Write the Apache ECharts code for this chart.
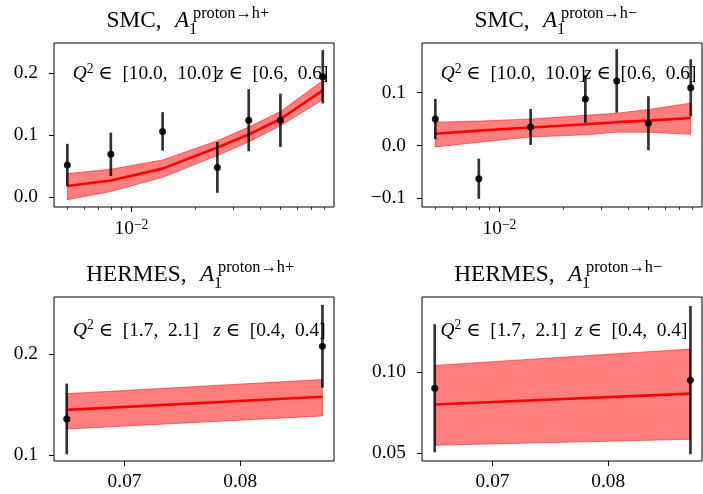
<!DOCTYPE html>
<html><head><meta charset="utf-8">
<script src="https://cdn.jsdelivr.net/npm/echarts@6/dist/echarts.min.js"></script>
<style>html,body{margin:0;padding:0;background:#fff}#c{width:703px;height:494px}</style>
</head><body><div id="c"></div>
<script>
// ---------- data ----------
const smcX = [0.005, 0.008, 0.014, 0.0253, 0.0355, 0.050, 0.079];

const smcPlusY      = [0.052, 0.069, 0.106, 0.048, 0.124, 0.124, 0.194];
const smcPlusErr    = [0.034, 0.035, 0.031, 0.041, 0.050, 0.043, 0.043];
const smcPlusTheory = [0.018, 0.027, 0.046, 0.080, 0.101, 0.126, 0.172];
const smcPlusLower  = [-0.004, 0.009, 0.032, 0.067, 0.089, 0.115, 0.157];
const smcPlusUpper  = [0.038, 0.045, 0.060, 0.091, 0.113, 0.138, 0.188];

const smcMinusY      = [0.050, -0.063, 0.035, 0.088, 0.122, 0.042, 0.109];
const smcMinusErr    = [0.038, 0.038, 0.034, 0.045, 0.060, 0.051, 0.054];
const smcMinusTheory = [0.022, 0.028, 0.034, 0.040, 0.044, 0.047, 0.052];
const smcMinusLower  = [-0.003, 0.006, 0.016, 0.020, 0.025, 0.025, 0.021];
const smcMinusUpper  = [0.044, 0.046, 0.050, 0.057, 0.061, 0.068, 0.080];

const hermesX = [0.0650, 0.0871];

const hermesPlusY      = [0.136, 0.208];
const hermesPlusErr    = [0.035, 0.041];
const hermesPlusTheory = [0.145, 0.158];
const hermesPlusLower  = [0.126, 0.139];
const hermesPlusUpper  = [0.161, 0.175];

const hermesMinusY      = [0.090, 0.095];
const hermesMinusErr    = [0.0395, 0.0457];
const hermesMinusTheory = [0.080, 0.0867];
const hermesMinusLower  = [0.0548, 0.0585];
const hermesMinusUpper  = [0.1041, 0.1142];

// axis ranges and tick values / labels
const smcXRange = [0.00433, 0.0892];
const smcXMajorTicks = [0.01];
const smcXMajorLabels = ['{b|10}{s|\u22122}'];
const smcXMinorTicks = [0.005, 0.006, 0.007, 0.008, 0.009, 0.02, 0.03, 0.04, 0.05, 0.06, 0.07, 0.08];
const hermesXRange = [0.0639, 0.0881];
const hermesXTicks  = [0.07, 0.08];
const hermesXLabels = ['0.07', '0.08'];
const smcPlusYTicks  = [0, 0.1, 0.2];
const smcPlusYLabels = ['0.0', '0.1', '0.2'];
const smcMinusYTicks  = [-0.1, 0, 0.1];
const smcMinusYLabels = ['\u22120.1', '0.0', '0.1'];
const hermesPlusYTicks  = [0.1, 0.2];
const hermesPlusYLabels = ['0.1', '0.2'];
const hermesMinusYTicks  = [0.05, 0.10];
const hermesMinusYLabels = ['0.05', '0.10'];

// ---------- layout / style ----------
const FF = "'Liberation Serif','DejaVu Serif',serif";
const TICK_FS = 19.4;
const grids = [
  {left: 54, top: 43, width: 280, height: 164},
  {left: 422, top: 43, width: 280, height: 164},
  {left: 54, top: 297, width: 280, height: 164},
  {left: 422, top: 297, width: 280, height: 164}
];

function lookupLabel(ticks, labels) {
  return function (v) {
    for (let i = 0; i < ticks.length; i++) if (Math.abs(ticks[i] - v) < 1e-9) return labels[i];
    return '';
  };
}
const noLine = {show: false, onZero: false};

function yAxis(gi, min, max, ticks, labels) {
  return {
    type: 'value', gridIndex: gi, min: min, max: max,
    axisLine: noLine, splitLine: {show: false},
    axisTick: {show: true, customValues: ticks, length: 5, lineStyle: {color: '#000', width: 1}},
    axisLabel: {customValues: ticks, formatter: lookupLabel(ticks, labels), margin: 16,
      color: '#000', fontFamily: FF, fontSize: TICK_FS, padding: [3, 0, 0, 0]}
  };
}
// log data axis (no ticks drawn itself)
function logXData(gi) {
  return {
    type: 'log', gridIndex: gi, min: smcXRange[0], max: smcXRange[1], position: 'bottom',
    axisLine: noLine, splitLine: {show: false}, axisTick: {show: false}, axisLabel: {show: false}
  };
}
// tick axes on the same log scale (log10 of tick values)
function logXTicks(gi, ticks, len, labels) {
  const lt = ticks.map(function (t) { return Math.log10(t); });
  const ax = {
    type: 'value', gridIndex: gi, position: 'bottom', offset: 0,
    min: Math.log10(smcXRange[0]), max: Math.log10(smcXRange[1]),
    axisLine: noLine, splitLine: {show: false},
    axisTick: {show: true, customValues: lt, length: len, lineStyle: {color: '#000', width: len > 4 ? 1 : 0.8}},
    axisLabel: {show: false}
  };
  if (labels) {
    ax.axisLabel = {show: true, customValues: lt, margin: 11,
      formatter: lookupLabel(lt, labels),
      rich: {
        b: {fontFamily: FF, fontSize: TICK_FS, color: '#000', lineHeight: 22},
        s: {fontFamily: FF, fontSize: 13.6, color: '#000', lineHeight: 12, verticalAlign: 'top'}
      }};
  }
  return ax;
}
function linX(gi) {
  return {
    type: 'value', gridIndex: gi, min: hermesXRange[0], max: hermesXRange[1],
    axisLine: noLine, splitLine: {show: false},
    axisTick: {show: true, customValues: hermesXTicks, length: 5, lineStyle: {color: '#000', width: 1}},
    axisLabel: {customValues: hermesXTicks, formatter: lookupLabel(hermesXTicks, hermesXLabels), margin: 11,
      color: '#000', fontFamily: FF, fontSize: TICK_FS}
  };
}

const panels = [
  {x: smcX, y: smcPlusY, err: smcPlusErr, th: smcPlusTheory, lo: smcPlusLower, hi: smcPlusUpper, xi: 0},
  {x: smcX, y: smcMinusY, err: smcMinusErr, th: smcMinusTheory, lo: smcMinusLower, hi: smcMinusUpper, xi: 3},
  {x: hermesX, y: hermesPlusY, err: hermesPlusErr, th: hermesPlusTheory, lo: hermesPlusLower, hi: hermesPlusUpper, xi: 6},
  {x: hermesX, y: hermesMinusY, err: hermesMinusErr, th: hermesMinusTheory, lo: hermesMinusLower, hi: hermesMinusUpper, xi: 7}
];

const series = [];
panels.forEach(function (p, i) {
  series.push({
    type: 'custom', xAxisIndex: p.xi, yAxisIndex: i, z: 1, silent: true,
    data: p.x.map(function (xv, k) { return [xv, p.lo[k], p.hi[k]]; }),
    encode: {x: 0, y: [1, 2]},
    renderItem: function (params, api) {
      if (params.dataIndex !== 0) return null;
      const pts = [];
      for (let k = 0; k < p.x.length; k++) pts.push(api.coord([p.x[k], p.hi[k]]));
      for (let k = p.x.length - 1; k >= 0; k--) pts.push(api.coord([p.x[k], p.lo[k]]));
      return {type: 'polygon', shape: {points: pts},
        style: {fill: 'rgba(255,0,0,0.5)', stroke: 'rgba(255,0,0,0.5)', lineWidth: 1}};
    }
  });
  series.push({
    type: 'line', xAxisIndex: p.xi, yAxisIndex: i, z: 2, symbol: 'none', silent: true,
    data: p.x.map(function (xv, k) { return [xv, p.th[k]]; }),
    lineStyle: {color: '#ff0000', width: 2.6}
  });
  series.push({
    type: 'custom', xAxisIndex: p.xi, yAxisIndex: i, z: 3, silent: true,
    data: p.x.map(function (xv, k) { return [xv, p.y[k], p.err[k]]; }),
    encode: {x: 0, y: 1},
    renderItem: function (params, api) {
      const xv = api.value(0), yv = api.value(1), e = api.value(2);
      const a = api.coord([xv, yv - e]), b = api.coord([xv, yv + e]);
      return {type: 'line', shape: {x1: a[0], y1: a[1], x2: b[0], y2: b[1]},
        style: {stroke: 'rgba(0,0,0,0.8)', lineWidth: 2.7}};
    }
  });
  series.push({
    type: 'scatter', xAxisIndex: p.xi, yAxisIndex: i, z: 4, symbolSize: 7, silent: true,
    data: p.x.map(function (xv, k) { return [xv, p.y[k]]; }),
    itemStyle: {color: '#000', opacity: 0.9}
  });
});

// ---------- text (titles, annotations) ----------
const graphic = [];
function title(prefix, sup, aLeft, base) {
  graphic.push({type: 'text', silent: true, style: {text: prefix, x: aLeft - 13.5, y: base - 7.9, textAlign: 'right',
    textVerticalAlign: 'middle', fontFamily: FF, fontSize: 23.3, fill: '#000'}});
  graphic.push({type: 'text', silent: true, style: {text: 'A', x: aLeft, y: base - 7.9, textAlign: 'left',
    textVerticalAlign: 'middle', fontFamily: FF, fontSize: 23.3, fontStyle: 'italic', fill: '#000'}});
  graphic.push({type: 'text', silent: true, style: {text: '1', x: aLeft + 14, y: base + 6.5 - 5.5, textAlign: 'left',
    textVerticalAlign: 'middle', fontFamily: FF, fontSize: 16.3, fill: '#000'}});
  graphic.push({type: 'text', silent: true, style: {text: sup, x: aLeft + 18, y: base - 9.7 - 5.5, textAlign: 'left',
    textVerticalAlign: 'middle', fontFamily: FF, fontSize: 16.3, fill: '#000'}});
}
title('SMC,', 'proton\u2192h+', 175, 28.5);
title('SMC,', 'proton\u2192h\u2212', 543, 28.5);
title('HERMES,', 'proton\u2192h+', 200, 282.5);
title('HERMES,', 'proton\u2192h\u2212', 568, 282.5);

const annRich = {
  i: {fontFamily: FF, fontSize: TICK_FS, fontStyle: 'italic', fill: '#000', lineHeight: 24},
  s: {fontFamily: FF, fontSize: 13.6, fill: '#000', lineHeight: 14, verticalAlign: 'top'},
  n: {fontFamily: FF, fontSize: TICK_FS, fill: '#000', lineHeight: 24}
};
function ann(text, x, y) {
  graphic.push({type: 'text', silent: true, z: 100, style: {text: text, x: x, y: y, textAlign: 'left',
    textVerticalAlign: 'middle', rich: annRich}});
}
ann('{i|Q}{s|2}{n| \u2208  [10.0,  10.0]}', 72.7, 74.3);
ann('{i|z}{n| \u2208  [0.6,  0.6]}', 216, 74.3);
ann('{i|Q}{s|2}{n| \u2208  [10.0,  10.0]}', 440.7, 74.3);
ann('{i|z}{n| \u2208  [0.6,  0.6]}', 584, 74.3);
ann('{i|Q}{s|2}{n| \u2208  [1.7,  2.1]}', 73, 330.5);
ann('{i|z}{n| \u2208  [0.4,  0.4]}', 213.3, 330.5);
ann('{i|Q}{s|2}{n| \u2208  [1.7,  2.1]}', 440.5, 330.5);
ann('{i|z}{n| \u2208  [0.4,  0.4]}', 575, 330.5);

const option = {
  animation: false,
  backgroundColor: '#fff',
  grid: grids.map(function (g) {
    return Object.assign({show: true, borderColor: '#000', borderWidth: 1, backgroundColor: 'transparent', containLabel: false}, g);
  }),
  xAxis: [
    logXData(0), logXTicks(0, smcXMajorTicks, 5, smcXMajorLabels), logXTicks(0, smcXMinorTicks, 2.8),
    logXData(1), logXTicks(1, smcXMajorTicks, 5, smcXMajorLabels), logXTicks(1, smcXMinorTicks, 2.8),
    linX(2), linX(3)
  ],
  yAxis: [
    yAxis(0, -0.0158, 0.2484, smcPlusYTicks, smcPlusYLabels),
    yAxis(1, -0.1165, 0.1938, smcMinusYTicks, smcMinusYLabels),
    yAxis(2, 0.0944, 0.2567, hermesPlusYTicks, hermesPlusYLabels),
    yAxis(3, 0.0451, 0.1463, hermesMinusYTicks, hermesMinusYLabels)
  ],
  series: series,
  graphic: graphic
};
const chart = echarts.init(document.getElementById('c'), null, {renderer: 'canvas'});
chart.setOption(option);
</script></body></html>
